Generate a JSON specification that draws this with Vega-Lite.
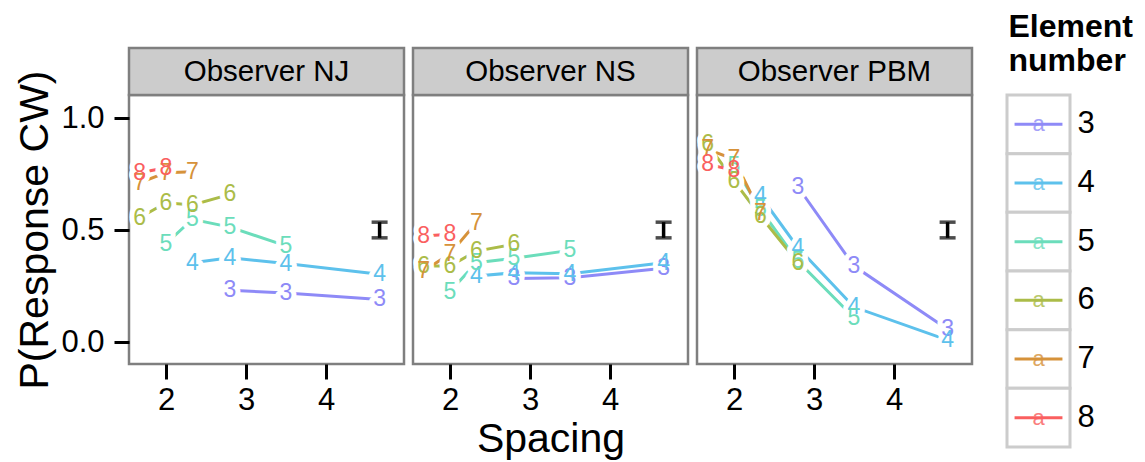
{
  "$schema": "https://vega.github.io/schema/vega-lite/v6.json",
  "background": "white",
  "padding": {"left": 13, "top": 10, "right": 5, "bottom": 5},
  "autosize": {"type": "pad"},
  "datasets": {
    "pts": [
      {"obs": "Observer NJ", "element": 3, "spacing": 2.8, "p": 0.231},
      {"obs": "Observer NJ", "element": 3, "spacing": 3.5, "p": 0.219},
      {"obs": "Observer NJ", "element": 3, "spacing": 4.67, "p": 0.19},
      {"obs": "Observer NJ", "element": 4, "spacing": 2.33, "p": 0.354},
      {"obs": "Observer NJ", "element": 4, "spacing": 2.8, "p": 0.376},
      {"obs": "Observer NJ", "element": 4, "spacing": 3.5, "p": 0.35},
      {"obs": "Observer NJ", "element": 4, "spacing": 4.67, "p": 0.302},
      {"obs": "Observer NJ", "element": 5, "spacing": 2.0, "p": 0.439},
      {"obs": "Observer NJ", "element": 5, "spacing": 2.33, "p": 0.548},
      {"obs": "Observer NJ", "element": 5, "spacing": 2.8, "p": 0.513},
      {"obs": "Observer NJ", "element": 5, "spacing": 3.5, "p": 0.429},
      {"obs": "Observer NJ", "element": 6, "spacing": 1.67, "p": 0.555},
      {"obs": "Observer NJ", "element": 6, "spacing": 2.0, "p": 0.622},
      {"obs": "Observer NJ", "element": 6, "spacing": 2.33, "p": 0.612},
      {"obs": "Observer NJ", "element": 6, "spacing": 2.8, "p": 0.659},
      {"obs": "Observer NJ", "element": 7, "spacing": 1.67, "p": 0.711},
      {"obs": "Observer NJ", "element": 7, "spacing": 2.0, "p": 0.756},
      {"obs": "Observer NJ", "element": 7, "spacing": 2.33, "p": 0.76},
      {"obs": "Observer NJ", "element": 8, "spacing": 1.67, "p": 0.756},
      {"obs": "Observer NJ", "element": 8, "spacing": 2.0, "p": 0.778},
      {"obs": "Observer NS", "element": 3, "spacing": 2.8, "p": 0.284},
      {"obs": "Observer NS", "element": 3, "spacing": 3.5, "p": 0.287},
      {"obs": "Observer NS", "element": 3, "spacing": 4.67, "p": 0.329},
      {"obs": "Observer NS", "element": 4, "spacing": 2.33, "p": 0.295},
      {"obs": "Observer NS", "element": 4, "spacing": 2.8, "p": 0.309},
      {"obs": "Observer NS", "element": 4, "spacing": 3.5, "p": 0.305},
      {"obs": "Observer NS", "element": 4, "spacing": 4.67, "p": 0.354},
      {"obs": "Observer NS", "element": 5, "spacing": 2.0, "p": 0.225},
      {"obs": "Observer NS", "element": 5, "spacing": 2.33, "p": 0.354},
      {"obs": "Observer NS", "element": 5, "spacing": 2.8, "p": 0.374},
      {"obs": "Observer NS", "element": 5, "spacing": 3.5, "p": 0.409},
      {"obs": "Observer NS", "element": 6, "spacing": 1.67, "p": 0.339},
      {"obs": "Observer NS", "element": 6, "spacing": 2.0, "p": 0.339},
      {"obs": "Observer NS", "element": 6, "spacing": 2.33, "p": 0.406},
      {"obs": "Observer NS", "element": 6, "spacing": 2.8, "p": 0.436},
      {"obs": "Observer NS", "element": 7, "spacing": 1.67, "p": 0.317},
      {"obs": "Observer NS", "element": 7, "spacing": 2.0, "p": 0.394},
      {"obs": "Observer NS", "element": 7, "spacing": 2.33, "p": 0.533},
      {"obs": "Observer NS", "element": 8, "spacing": 1.67, "p": 0.473},
      {"obs": "Observer NS", "element": 8, "spacing": 2.0, "p": 0.481},
      {"obs": "Observer PBM", "element": 3, "spacing": 2.8, "p": 0.692},
      {"obs": "Observer PBM", "element": 3, "spacing": 3.5, "p": 0.339},
      {"obs": "Observer PBM", "element": 3, "spacing": 4.67, "p": 0.057},
      {"obs": "Observer PBM", "element": 4, "spacing": 2.33, "p": 0.652},
      {"obs": "Observer PBM", "element": 4, "spacing": 2.8, "p": 0.421},
      {"obs": "Observer PBM", "element": 4, "spacing": 3.5, "p": 0.156},
      {"obs": "Observer PBM", "element": 4, "spacing": 4.67, "p": 0.008},
      {"obs": "Observer PBM", "element": 5, "spacing": 2.0, "p": 0.786},
      {"obs": "Observer PBM", "element": 5, "spacing": 2.33, "p": 0.592},
      {"obs": "Observer PBM", "element": 5, "spacing": 2.8, "p": 0.36},
      {"obs": "Observer PBM", "element": 5, "spacing": 3.5, "p": 0.108},
      {"obs": "Observer PBM", "element": 6, "spacing": 1.67, "p": 0.883},
      {"obs": "Observer PBM", "element": 6, "spacing": 2.0, "p": 0.719},
      {"obs": "Observer PBM", "element": 6, "spacing": 2.33, "p": 0.5625},
      {"obs": "Observer PBM", "element": 6, "spacing": 2.8, "p": 0.354},
      {"obs": "Observer PBM", "element": 7, "spacing": 1.67, "p": 0.86},
      {"obs": "Observer PBM", "element": 7, "spacing": 2.0, "p": 0.816},
      {"obs": "Observer PBM", "element": 7, "spacing": 2.33, "p": 0.577},
      {"obs": "Observer PBM", "element": 8, "spacing": 1.67, "p": 0.793},
      {"obs": "Observer PBM", "element": 8, "spacing": 2.0, "p": 0.767}
    ],
    "eb": [
      {"obs": "Observer NJ", "ebx": 4.67, "lo": 0.465, "hi": 0.535},
      {"obs": "Observer NS", "ebx": 4.67, "lo": 0.465, "hi": 0.535},
      {"obs": "Observer PBM", "ebx": 4.67, "lo": 0.465, "hi": 0.535}
    ],
    "keys": [
      {"element": 3}, {"element": 4}, {"element": 5},
      {"element": 6}, {"element": 7}, {"element": 8}
    ]
  },
  "config": {
    "font": "Liberation Sans",
    "view": {"stroke": "#7f7f7f", "strokeWidth": 2.5},
    "axis": {
      "grid": false, "domain": false,
      "tickColor": "black", "tickWidth": 3, "tickSize": 15,
      "labelColor": "black", "labelFontSize": 31, "labelPadding": 6,
      "titleColor": "black", "titleFontSize": 41, "titleFontWeight": "normal"
    },
    "text": {"font": "Liberation Sans"}
  },
  "spacing": 30,
  "hconcat": [
    {
      "spacing": 3,
      "hconcat": [
        {
          "width": 275, "height": 269,
          "layer": [
            {"data": {"name": "pts"}, "transform": [{"filter": "datum.obs === 'Observer NJ'"}],
             "mark": {"type": "line", "strokeWidth": 3},
             "encoding": {
               "x": {"field": "spacing", "type": "quantitative", "scale": {"domain": [1.5375, 4.975], "nice": false, "zero": false},
                     "axis": {"values": [2, 3, 4], "format": "d", "title": null}},
               "y": {"field": "p", "type": "quantitative", "scale": {"domain": [-0.0982, 1.1027], "nice": false, "zero": false},
                     "axis": {"values": [0, 0.5, 1], "format": ".1f", "title": "P(Response CW)", "labelPadding": 10, "titlePadding": 4}},
               "color": {"field": "element", "type": "nominal", "legend": null, "scale": {"domain": [3,4,5,6,7,8], "range": ["#8E8AF7", "#5DC1EC", "#6BDDBB", "#ABBC48", "#D6923A", "#FA5F5F"]}}}},
            {"data": {"name": "pts"}, "transform": [{"filter": "datum.obs === 'Observer NJ'"}],
             "mark": {"type": "text", "fontSize": 23, "fill": "white", "stroke": "white", "strokeWidth": 10, "strokeJoin": "round", "baseline": "middle"},
             "encoding": {"x": {"field": "spacing", "type": "quantitative"}, "y": {"field": "p", "type": "quantitative"}, "text": {"field": "element"}}},
            {"data": {"name": "pts"}, "transform": [{"filter": "datum.obs === 'Observer NJ'"}],
             "mark": {"type": "text", "fontSize": 23, "baseline": "middle"},
             "encoding": {"x": {"field": "spacing", "type": "quantitative"}, "y": {"field": "p", "type": "quantitative"}, "text": {"field": "element"}, "color": {"field": "element", "type": "nominal", "legend": null}}},
            {"data": {"name": "eb"}, "transform": [{"filter": "datum.obs === 'Observer NJ'"}],
             "mark": {"type": "rule", "color": "black", "strokeWidth": 3.5},
             "encoding": {"x": {"field": "ebx", "type": "quantitative"}, "y": {"field": "lo", "type": "quantitative"}, "y2": {"field": "hi"}}},
            {"data": {"name": "eb"}, "transform": [{"filter": "datum.obs === 'Observer NJ'"}],
             "mark": {"type": "tick", "orient": "horizontal", "color": "black", "size": 16, "thickness": 3.5},
             "encoding": {"x": {"field": "ebx", "type": "quantitative"}, "y": {"field": "lo", "type": "quantitative"}}},
            {"data": {"name": "eb"}, "transform": [{"filter": "datum.obs === 'Observer NJ'"}],
             "mark": {"type": "tick", "orient": "horizontal", "color": "black", "size": 16, "thickness": 3.5},
             "encoding": {"x": {"field": "ebx", "type": "quantitative"}, "y": {"field": "hi", "type": "quantitative"}}},
            {"data": {"name": "eb"}, "transform": [{"filter": "datum.obs === 'Observer NJ'"}],
             "mark": {"type": "rect", "fill": "#cccccc", "stroke": "#7f7f7f", "strokeWidth": 2.5, "clip": false},
             "encoding": {"x": {"datum": 1.5375, "type": "quantitative"}, "x2": {"datum": 4.975}, "y": {"datum": 1.3125, "type": "quantitative"}, "y2": {"datum": 1.1027}}},
            {"data": {"name": "eb"}, "transform": [{"filter": "datum.obs === 'Observer NJ'"}],
             "mark": {"type": "text", "fontSize": 29.5, "color": "black", "baseline": "middle", "clip": false},
             "encoding": {"text": {"field": "obs"}, "x": {"datum": 3.256, "type": "quantitative"}, "y": {"datum": 1.2076, "type": "quantitative"}}}
          ]
        },
        {
          "width": 275, "height": 269,
          "layer": [
            {"data": {"name": "pts"}, "transform": [{"filter": "datum.obs === 'Observer NS'"}],
             "mark": {"type": "line", "strokeWidth": 3},
             "encoding": {
               "x": {"field": "spacing", "type": "quantitative", "scale": {"domain": [1.5375, 4.975], "nice": false, "zero": false},
                     "axis": {"values": [2, 3, 4], "format": "d", "title": "Spacing", "titlePadding": 4}},
               "y": {"field": "p", "type": "quantitative", "scale": {"domain": [-0.0982, 1.1027], "nice": false, "zero": false}, "axis": null},
               "color": {"field": "element", "type": "nominal", "legend": null}}},
            {"data": {"name": "pts"}, "transform": [{"filter": "datum.obs === 'Observer NS'"}],
             "mark": {"type": "text", "fontSize": 23, "fill": "white", "stroke": "white", "strokeWidth": 10, "strokeJoin": "round", "baseline": "middle"},
             "encoding": {"x": {"field": "spacing", "type": "quantitative"}, "y": {"field": "p", "type": "quantitative"}, "text": {"field": "element"}}},
            {"data": {"name": "pts"}, "transform": [{"filter": "datum.obs === 'Observer NS'"}],
             "mark": {"type": "text", "fontSize": 23, "baseline": "middle"},
             "encoding": {"x": {"field": "spacing", "type": "quantitative"}, "y": {"field": "p", "type": "quantitative"}, "text": {"field": "element"}, "color": {"field": "element", "type": "nominal", "legend": null}}},
            {"data": {"name": "eb"}, "transform": [{"filter": "datum.obs === 'Observer NS'"}],
             "mark": {"type": "rule", "color": "black", "strokeWidth": 3.5},
             "encoding": {"x": {"field": "ebx", "type": "quantitative"}, "y": {"field": "lo", "type": "quantitative"}, "y2": {"field": "hi"}}},
            {"data": {"name": "eb"}, "transform": [{"filter": "datum.obs === 'Observer NS'"}],
             "mark": {"type": "tick", "orient": "horizontal", "color": "black", "size": 16, "thickness": 3.5},
             "encoding": {"x": {"field": "ebx", "type": "quantitative"}, "y": {"field": "lo", "type": "quantitative"}}},
            {"data": {"name": "eb"}, "transform": [{"filter": "datum.obs === 'Observer NS'"}],
             "mark": {"type": "tick", "orient": "horizontal", "color": "black", "size": 16, "thickness": 3.5},
             "encoding": {"x": {"field": "ebx", "type": "quantitative"}, "y": {"field": "hi", "type": "quantitative"}}},
            {"data": {"name": "eb"}, "transform": [{"filter": "datum.obs === 'Observer NS'"}],
             "mark": {"type": "rect", "fill": "#cccccc", "stroke": "#7f7f7f", "strokeWidth": 2.5, "clip": false},
             "encoding": {"x": {"datum": 1.5375, "type": "quantitative"}, "x2": {"datum": 4.975}, "y": {"datum": 1.3125, "type": "quantitative"}, "y2": {"datum": 1.1027}}},
            {"data": {"name": "eb"}, "transform": [{"filter": "datum.obs === 'Observer NS'"}],
             "mark": {"type": "text", "fontSize": 29.5, "color": "black", "baseline": "middle", "clip": false},
             "encoding": {"text": {"field": "obs"}, "x": {"datum": 3.256, "type": "quantitative"}, "y": {"datum": 1.2076, "type": "quantitative"}}}
          ]
        },
        {
          "width": 275, "height": 269,
          "layer": [
            {"data": {"name": "pts"}, "transform": [{"filter": "datum.obs === 'Observer PBM'"}],
             "mark": {"type": "line", "strokeWidth": 3},
             "encoding": {
               "x": {"field": "spacing", "type": "quantitative", "scale": {"domain": [1.5375, 4.975], "nice": false, "zero": false},
                     "axis": {"values": [2, 3, 4], "format": "d", "title": null}},
               "y": {"field": "p", "type": "quantitative", "scale": {"domain": [-0.0982, 1.1027], "nice": false, "zero": false}, "axis": null},
               "color": {"field": "element", "type": "nominal", "legend": null}}},
            {"data": {"name": "pts"}, "transform": [{"filter": "datum.obs === 'Observer PBM'"}],
             "mark": {"type": "text", "fontSize": 23, "fill": "white", "stroke": "white", "strokeWidth": 10, "strokeJoin": "round", "baseline": "middle"},
             "encoding": {"x": {"field": "spacing", "type": "quantitative"}, "y": {"field": "p", "type": "quantitative"}, "text": {"field": "element"}}},
            {"data": {"name": "pts"}, "transform": [{"filter": "datum.obs === 'Observer PBM'"}],
             "mark": {"type": "text", "fontSize": 23, "baseline": "middle"},
             "encoding": {"x": {"field": "spacing", "type": "quantitative"}, "y": {"field": "p", "type": "quantitative"}, "text": {"field": "element"}, "color": {"field": "element", "type": "nominal", "legend": null}}},
            {"data": {"name": "eb"}, "transform": [{"filter": "datum.obs === 'Observer PBM'"}],
             "mark": {"type": "rule", "color": "black", "strokeWidth": 3.5},
             "encoding": {"x": {"field": "ebx", "type": "quantitative"}, "y": {"field": "lo", "type": "quantitative"}, "y2": {"field": "hi"}}},
            {"data": {"name": "eb"}, "transform": [{"filter": "datum.obs === 'Observer PBM'"}],
             "mark": {"type": "tick", "orient": "horizontal", "color": "black", "size": 16, "thickness": 3.5},
             "encoding": {"x": {"field": "ebx", "type": "quantitative"}, "y": {"field": "lo", "type": "quantitative"}}},
            {"data": {"name": "eb"}, "transform": [{"filter": "datum.obs === 'Observer PBM'"}],
             "mark": {"type": "tick", "orient": "horizontal", "color": "black", "size": 16, "thickness": 3.5},
             "encoding": {"x": {"field": "ebx", "type": "quantitative"}, "y": {"field": "hi", "type": "quantitative"}}},
            {"data": {"name": "eb"}, "transform": [{"filter": "datum.obs === 'Observer PBM'"}],
             "mark": {"type": "rect", "fill": "#cccccc", "stroke": "#7f7f7f", "strokeWidth": 2.5, "clip": false},
             "encoding": {"x": {"datum": 1.5375, "type": "quantitative"}, "x2": {"datum": 4.975}, "y": {"datum": 1.3125, "type": "quantitative"}, "y2": {"datum": 1.1027}}},
            {"data": {"name": "eb"}, "transform": [{"filter": "datum.obs === 'Observer PBM'"}],
             "mark": {"type": "text", "fontSize": 29.5, "color": "black", "baseline": "middle", "clip": false},
             "encoding": {"text": {"field": "obs"}, "x": {"datum": 3.256, "type": "quantitative"}, "y": {"datum": 1.2076, "type": "quantitative"}}}
          ]
        }
      ]
    },
    {
      "data": {"name": "keys"},
      "width": 63, "height": 352,
      "view": {"stroke": null},
      "title": {"text": ["Element", "number"], "anchor": "start", "fontSize": 32, "fontWeight": "bold", "lineHeight": 34, "offset": 16, "color": "black", "dx": 3},
      "encoding": {
        "y": {"field": "element", "type": "ordinal", "scale": {"paddingInner": 0, "paddingOuter": 0},
              "axis": {"orient": "right", "title": null, "ticks": false, "tickSize": 0, "domain": false, "labelPadding": 7, "labelFontSize": 31}}
      },
      "layer": [
        {"mark": {"type": "rect", "fill": "white", "stroke": "#cccccc", "strokeWidth": 3},
         "encoding": {"x": {"datum": 0, "type": "quantitative", "scale": {"domain": [0, 1]}, "axis": null}, "x2": {"datum": 1}}},
        {"mark": {"type": "rule", "strokeWidth": 3},
         "encoding": {"x": {"datum": 0.12, "type": "quantitative"}, "x2": {"datum": 0.88}, "color": {"field": "element", "type": "nominal", "legend": null}}},
        {"mark": {"type": "text", "fontSize": 22, "baseline": "middle", "opacity": 0.8},
         "encoding": {"x": {"datum": 0.5, "type": "quantitative"}, "text": {"value": "a"}, "color": {"field": "element", "type": "nominal", "legend": null}}}
      ]
    }
  ]
}
